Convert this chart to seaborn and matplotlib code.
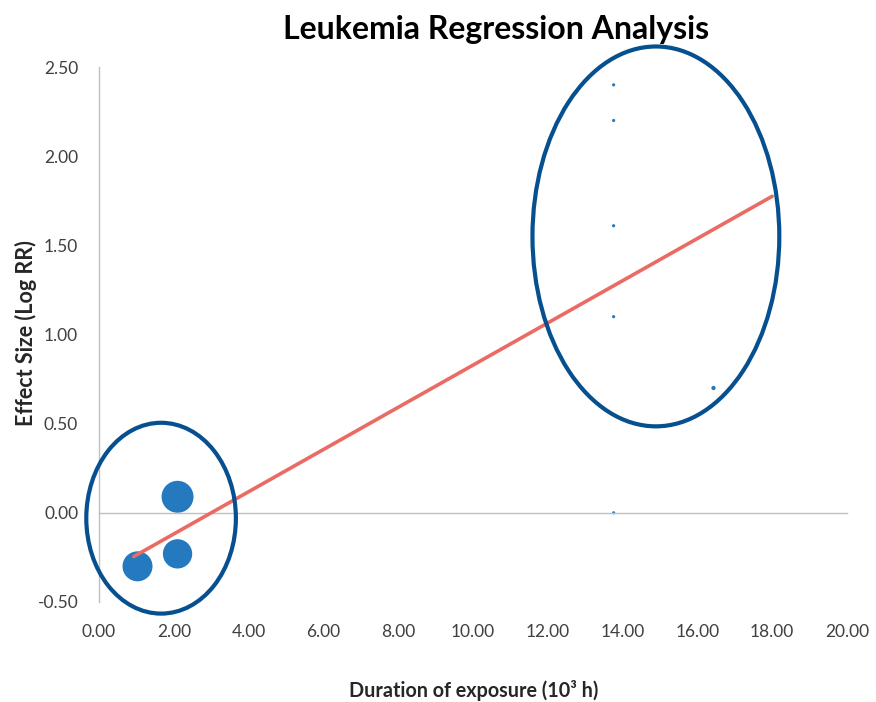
import numpy as np
import pandas as pd
import matplotlib
matplotlib.use("Agg")
import matplotlib.pyplot as plt
from matplotlib.patches import Ellipse
import seaborn as sns

# Study estimates: exposure duration (10^3 h), log relative risk, study weight
duration = [2.10, 2.10, 1.03, 13.76, 13.76, 13.76, 13.76, 13.76, 16.43]
log_rr = [0.09, -0.23, -0.30, 2.40, 2.20, 1.61, 1.10, 0.00, 0.70]
weight = [100, 84, 88, 1.0, 1.0, 1.0, 1.0, 1.0, 1.8]

# Fitted meta-regression line (endpoints)
fit_x = [0.93, 18.0]
fit_y = [-0.245, 1.775]

x_ticks = [0, 2, 4, 6, 8, 10, 12, 14, 16, 18, 20]
y_ticks = [-0.5, 0.0, 0.5, 1.0, 1.5, 2.0, 2.5]

df = pd.DataFrame({"duration": duration, "log_rr": log_rr, "weight": weight})

sns.set_style("white")
plt.rcParams["font.family"] = ["Lato", "DejaVu Sans"]

W, H = 876, 702
fig = plt.figure(figsize=(W / 100, H / 100), dpi=100)
ax = fig.add_axes([99 / W, 1 - 602 / H, (847 - 99) / W, (602 - 67) / H])

POINT = "#2479bf"
FIT = "#ea6b63"
RING = "#07508f"
AXIS = "#bfbfbf"

sns.scatterplot(data=df, x="duration", y="log_rr", size="weight",
                sizes=(0, 530), size_norm=(0, 100), color=POINT,
                linewidth=0, legend=False, ax=ax, zorder=2)
sns.lineplot(x=fit_x, y=fit_y, color=FIT, linewidth=2.6, ax=ax, zorder=3)

# Highlight the two clusters of studies
for cx, cy, w, h in [(1.66, -0.03, 4.0, 1.07), (14.89, 1.55, 6.6, 2.13)]:
    ax.add_patch(Ellipse((cx, cy), w, h, fill=False, edgecolor=RING,
                         linewidth=3.0, zorder=4, clip_on=False))

ax.set_xlim(0, 20)
ax.set_ylim(-0.5, 2.5)
ax.set_xticks(x_ticks)
ax.set_yticks(y_ticks)
ax.set_xticklabels([f"{v:.2f}" for v in x_ticks])
ax.set_yticklabels([f"{v:.2f}" for v in y_ticks])

for s in ["top", "right"]:
    ax.spines[s].set_visible(False)
ax.spines["bottom"].set_position(("data", 0))
for s in ["left", "bottom"]:
    ax.spines[s].set_color(AXIS)
    ax.spines[s].set_linewidth(1.0)

ax.tick_params(axis="x", direction="in", length=4.5, width=1.0, color=AXIS,
               pad=80, labelsize=12.5, labelcolor="#404040")
ax.tick_params(axis="y", direction="in", length=4.5, width=1.0, color=AXIS,
               pad=15, labelsize=12.5, labelcolor="#404040")

ax.set_xlabel("Duration of exposure (10³ h)", fontsize=14.2, fontweight="bold",
              va="center")
ax.set_ylabel("Effect Size (Log RR)", fontsize=15.5, fontweight="bold",
              va="center")
ax.xaxis.set_label_coords(0.501, -0.1645)
ax.yaxis.set_label_coords(-0.097, 0.503)

ax.text(0.531, 1.071, "Leukemia Regression Analysis", transform=ax.transAxes,
        ha="center", va="center", fontsize=23, fontweight="bold", color="black")

fig.savefig("out.png", dpi=100)
